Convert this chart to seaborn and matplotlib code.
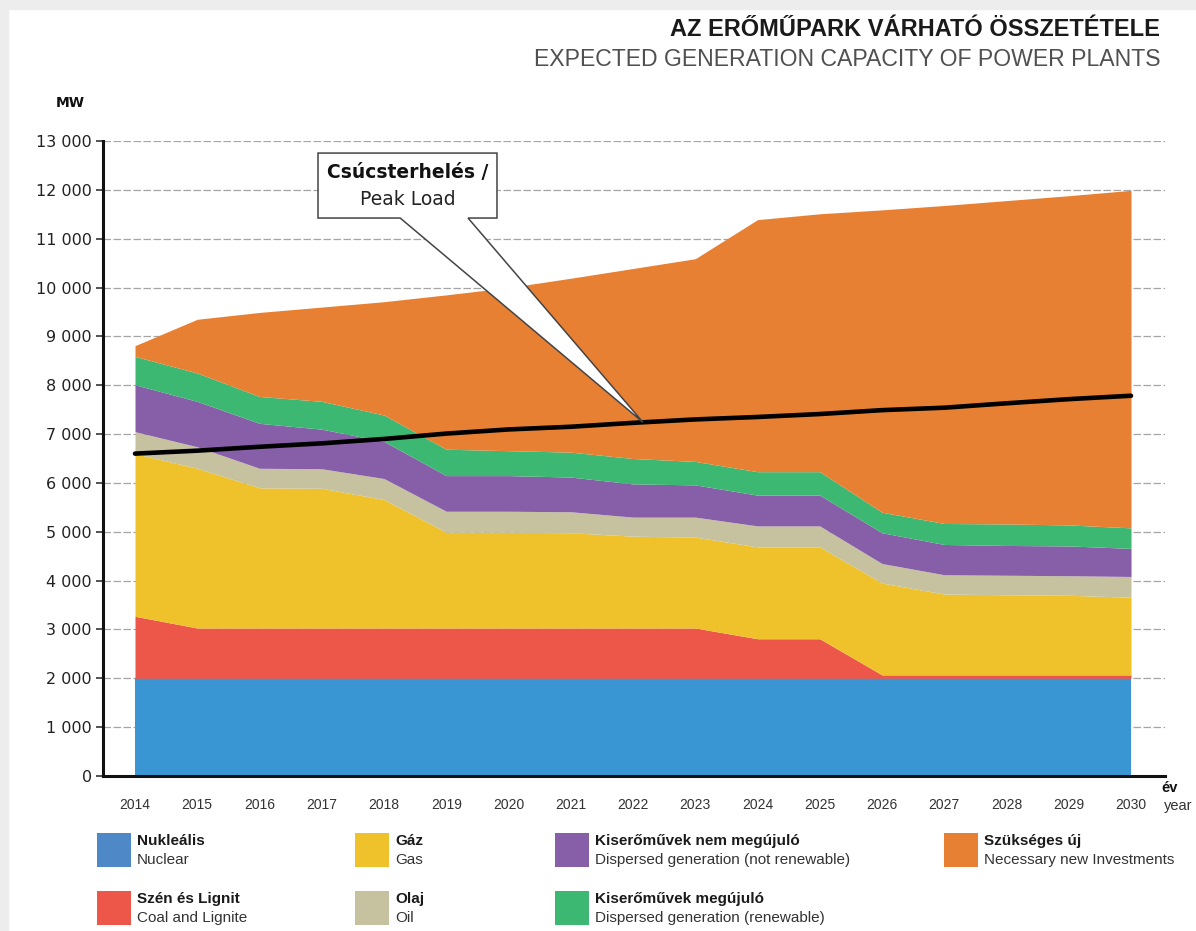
import numpy as np
import pandas as pd
import matplotlib
matplotlib.use("Agg")
import matplotlib.pyplot as plt
import seaborn as sns
from matplotlib.patches import Rectangle, Polygon

# ---------------- data (MW) ----------------
years = list(range(2014, 2031))
nuclear = [2000] * 17
coal = [1270, 1030, 1030, 1030, 1030, 1030, 1030, 1030, 1030, 1030, 810, 810, 70, 70, 70, 70, 70]
gas = [3330, 3270, 2870, 2860, 2630, 1960, 1960, 1950, 1880, 1860, 1880, 1880, 1880, 1655, 1640, 1630, 1590]
oil = [450, 440, 400, 400, 430, 430, 430, 430, 390, 410, 430, 430, 400, 395, 400, 400, 425]
dispersed_nonren = [960, 930, 920, 810, 760, 730, 730, 710, 680, 660, 630, 630, 630, 620, 610, 610, 575]
dispersed_ren = [580, 580, 550, 570, 540, 540, 510, 510, 520, 480, 480, 480, 420, 430, 440, 430, 420]
new_investments = [220, 1100, 1720, 1930, 2320, 3160, 3340, 3560, 3890, 4150, 5160, 5280, 6190, 6510, 6620, 6740, 6910]
peak_load = [6600, 6660, 6740, 6810, 6900, 7010, 7095, 7150, 7230, 7300, 7350, 7410, 7490, 7540, 7630, 7715, 7785]

y_ticks = list(range(0, 13001, 1000))

series_hu = ["Nukleális", "Szén és Lignit", "Gáz", "Olaj",
             "Kiserőművek nem megújuló", "Kiserőművek megújuló", "Szükséges új"]
series_en = ["Nuclear", "Coal and Lignite", "Gas", "Oil",
             "Dispersed generation (not renewable)", "Dispersed generation (renewable)",
             "Necessary new Investments"]
colors = ["#3A96D2", "#EC574A", "#EFC22C", "#C6C2A0", "#865FA8", "#3CB872", "#E88033"]
legend_colors = ["#4F88C6", "#EC574A", "#EFC22C", "#C6C2A0", "#865FA8", "#3CB872", "#E88033"]

title = "AZ ERŐMŰPARK VÁRHATÓ ÖSSZETÉTELE"
subtitle = "EXPECTED GENERATION CAPACITY OF POWER PLANTS"
callout_hu = "Csúcsterhelés /"
callout_en = "Peak Load"

# ---------------- style ----------------
sns.set_theme(style="white")
plt.rcParams["font.family"] = ["DejaVu Sans"]
NARROW = ["Liberation Sans Narrow", "Liberation Sans", "DejaVu Sans"]

W, H = 1196, 931
fig = plt.figure(figsize=(W / 100, H / 100), dpi=100)
fig.patch.set_facecolor("white")

def fx(px):
    return px / W

def fy(py):
    return 1 - py / H

# page frame strips
fig.patches.append(Rectangle((0, 0), fx(8), 1, transform=fig.transFigure, color="#EDEDED", zorder=0))
fig.patches.append(Rectangle((0, fy(9)), 1, 9 / H, transform=fig.transFigure, color="#EDEDED", zorder=0))

ax = fig.add_axes([fx(103), fy(776), fx(1165) - fx(103), fy(141) - fy(776)])
ax.set_facecolor("white")

ax.stackplot(years, nuclear, coal, gas, oil, dispersed_nonren, dispersed_ren, new_investments,
             colors=colors, linewidth=0, zorder=2)

df_peak = pd.DataFrame({"year": years, "peak": peak_load})
sns.lineplot(data=df_peak, x="year", y="peak", ax=ax, color="black", linewidth=3.3, zorder=4)

ax.set_xlim(2013.486, 2030.546)
ax.set_ylim(0, 13000)
ax.set_xticks(years)
ax.set_xticklabels([str(y) for y in years], fontfamily=NARROW, fontsize=10, color="#333333")
ax.set_yticks(y_ticks)
ax.set_yticklabels([f"{v:,}".replace(",", " ") for v in y_ticks], fontsize=11.5, color="#222222")
ax.set_xlabel("")
ax.set_ylabel("")
ax.tick_params(axis="y", left=True, length=5, width=1.3, color="#444444", pad=3)
ax.tick_params(axis="x", bottom=False, pad=10)

ax.set_axisbelow(True)
ax.yaxis.grid(True, color="#A5A5A5", linestyle=(0, (6, 2)), linewidth=0.9, zorder=0)
ax.xaxis.grid(False)
for s in ["top", "right"]:
    ax.spines[s].set_visible(False)
for s in ["left", "bottom"]:
    ax.spines[s].set_color("#111111")
    ax.spines[s].set_linewidth(2.2)

# callout bubble (data coordinates, tip anchored on the peak-load line)
tip_x = 2022.16
tip_y = float(np.interp(tip_x, years, peak_load))
bx0, bx1, by0, by1 = 2016.94, 2019.815, 11423, 12753
base_l, base_r = 2018.26, 2019.35
bubble = Polygon([(bx0, by1), (bx1, by1), (bx1, by0), (base_r, by0), (tip_x, tip_y),
                  (base_l, by0), (bx0, by0)], closed=True, facecolor="white",
                 edgecolor="#444444", linewidth=1.1, zorder=5)
ax.add_patch(bubble)
cx = (bx0 + bx1) / 2
ax.text(cx, 12364, callout_hu, ha="center", va="center", fontsize=13.5, fontweight="bold",
        color="#111111", zorder=6)
ax.text(cx, 11812, callout_en, ha="center", va="center", fontsize=13.5, color="#222222", zorder=6)

# titles
fig.text(fx(1160), fy(29), title, ha="right", va="center", fontsize=17, fontweight="bold",
         family=NARROW, color="#1A1A1A")
fig.text(fx(1160), fy(60), subtitle, ha="right", va="center", fontsize=16.6, fontweight="light",
         family=["Liberation Sans", "DejaVu Sans"], color="#505050")

fig.text(fx(70), fy(103), "MW", ha="center", va="center", fontsize=10, fontweight="bold", color="#111111")
fig.text(fx(1170), fy(788), "év", ha="center", va="center", fontsize=10.5, fontweight="bold",
         family=NARROW, color="#111111")
fig.text(fx(1178), fy(806), "year", ha="center", va="center", fontsize=10.5,
         family=NARROW, color="#333333")

# legend (custom, two rows)
order = [(0, 97, 833), (2, 355, 833), (4, 555, 833), (6, 944, 833),
         (1, 97, 891), (3, 355, 891), (5, 555, 891)]
for idx, lx, ly in order:
    fig.patches.append(Rectangle((fx(lx), fy(ly + 34)), 34 / W, 34 / H, transform=fig.transFigure,
                                 facecolor=legend_colors[idx], edgecolor="none"))
    fig.text(fx(lx + 40), fy(ly + 8), series_hu[idx], ha="left", va="center", fontsize=11,
             fontweight="bold", family=NARROW, color="#1A1A1A")
    fig.text(fx(lx + 40), fy(ly + 27), series_en[idx], ha="left", va="center", fontsize=11,
             family=NARROW, color="#333333")

fig.savefig("out.png", dpi=100, facecolor="white")
